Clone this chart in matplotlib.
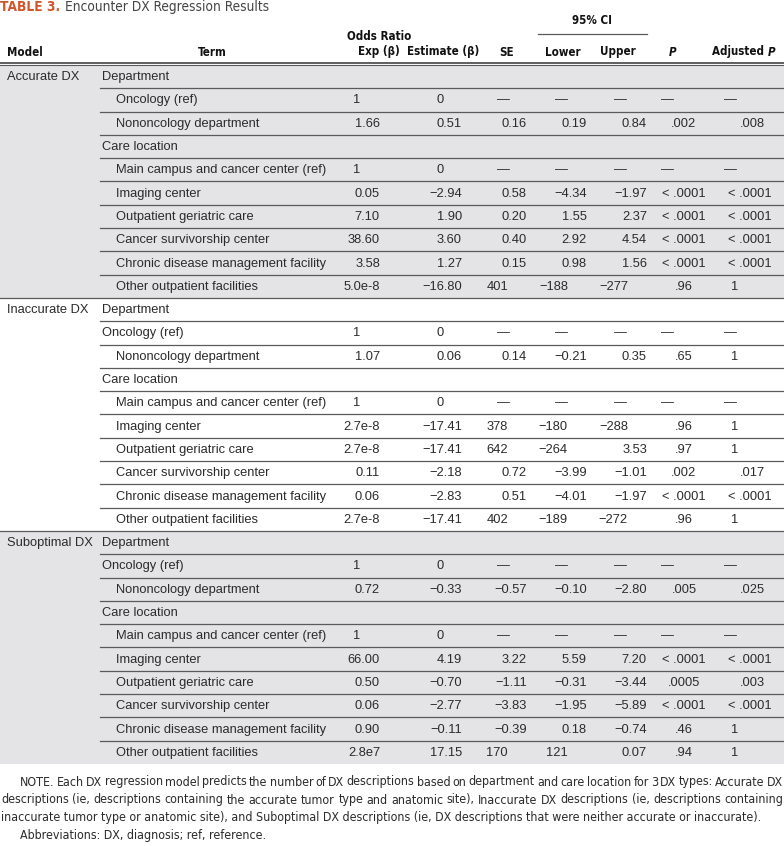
import matplotlib.pyplot as plt
from matplotlib.patches import Rectangle

# ---- data -------------------------------------------------------------
models = ["Accurate DX", "Inaccurate DX", "Suboptimal DX"]
terms = ["Department", "Oncology (ref)", "Nononcology department", "Care location",
         "Main campus and cancer center (ref)", "Imaging center",
         "Outpatient geriatric care", "Cancer survivorship center",
         "Chronic disease management facility", "Other outpatient facilities"]

odds_ratio = [
    ["", "1", "1.66", "", "1", "0.05", "7.10", "38.60", "3.58", "5.0e-8"],
    ["", "1", "1.07", "", "1", "2.7e-8", "2.7e-8", "0.11", "0.06", "2.7e-8"],
    ["", "1", "0.72", "", "1", "66.00", "0.50", "0.06", "0.90", "2.8e7"],
]
estimate = [
    ["", "0", "0.51", "", "0", "−2.94", "1.90", "3.60", "1.27", "−16.80"],
    ["", "0", "0.06", "", "0", "−17.41", "−17.41", "−2.18", "−2.83", "−17.41"],
    ["", "0", "−0.33", "", "0", "4.19", "−0.70", "−2.77", "−0.11", "17.15"],
]
se = [
    ["", "—", "0.16", "", "—", "0.58", "0.20", "0.40", "0.15", "401"],
    ["", "—", "0.14", "", "—", "378", "642", "0.72", "0.51", "402"],
    ["", "—", "−0.57", "", "—", "3.22", "−1.11", "−3.83", "−0.39", "170"],
]
ci_lower = [
    ["", "—", "0.19", "", "—", "−4.34", "1.55", "2.92", "0.98", "−188"],
    ["", "—", "−0.21", "", "—", "−180", "−264", "−3.99", "−4.01", "−189"],
    ["", "—", "−0.10", "", "—", "5.59", "−0.31", "−1.95", "0.18", "121"],
]
ci_upper = [
    ["", "—", "0.84", "", "—", "−1.97", "2.37", "4.54", "1.56", "−277"],
    ["", "—", "0.35", "", "—", "−288", "3.53", "−1.01", "−1.97", "−272"],
    ["", "—", "−2.80", "", "—", "7.20", "−3.44", "−5.89", "−0.74", "0.07"],
]
p_value = [
    ["", "—", ".002", "", "—", "< .0001", "< .0001", "< .0001", "< .0001", ".96"],
    ["", "—", ".65", "", "—", ".96", ".97", ".002", "< .0001", ".96"],
    ["", "—", ".005", "", "—", "< .0001", ".0005", "< .0001", ".46", ".94"],
]
adj_p = [
    ["", "—", ".008", "", "—", "< .0001", "< .0001", "< .0001", "< .0001", "1"],
    ["", "—", "1", "", "—", "1", "1", ".017", "< .0001", "1"],
    ["", "—", ".025", "", "—", "< .0001", ".003", "< .0001", "1", "1"],
]

note_lines = [
    "NOTE. Each DX regression model predicts the number of DX descriptions based on department and care location for 3 DX types: Accurate DX",
    "descriptions (ie, descriptions containing the accurate tumor type and anatomic site), Inaccurate DX descriptions (ie, descriptions containing",
    "inaccurate tumor type or anatomic site), and Suboptimal DX descriptions (ie, DX descriptions that were neither accurate or inaccurate).",
]
abbrev = "Abbreviations: DX, diagnosis; ref, reference."

# ---- layout / style ---------------------------------------------------
W, H = 784, 846
ROW_TOP, ROW_H = 65.0, 23.3
GRAY = "#e4e4e6"
LINE = "#5a5a5a"
TXT = "#2b2b2b"
BODY = dict(family=["Liberation Sans", "DejaVu Sans"], fontsize=9.3, color=TXT)
HEAD = dict(family="DejaVu Sans", fontstretch="condensed", fontsize=8.3,
            fontweight="bold", color="#111111")
flush_rows = [[0, 3], [0, 1, 3], [0, 1, 3]]  # term rows not indented


def value_pos(col, s):
    """x and alignment of a value inside its column."""
    is_int = "." not in s and "e" not in s
    if col == "odds":
        return (357, "center") if s == "1" else (380, "right")
    if col == "est":
        return (440, "center") if s == "0" else (462, "right")
    if col in ("se", "lower", "upper"):
        right = {"se": 527, "lower": 587, "upper": 647}[col]
        dash = {"se": 503, "lower": 561, "upper": 620}[col]
        if s == "—":
            return dash, "center"
        return (right - 19, "right") if is_int else (right, "right")
    if col == "p":
        return (667, "center") if s == "—" else (684, "center")
    # adjusted P
    if s == "—":
        return 730, "center"
    if s == "1":
        return 735, "center"
    return (772, "right") if s.startswith("<") else (765, "right")


fig = plt.figure(figsize=(W / 100, H / 100), dpi=100)
ax = fig.add_axes([0, 0, 1, 1])
ax.set_xlim(0, W)
ax.set_ylim(H, 0)
ax.axis("off")
renderer = fig.canvas.get_renderer()

# title
t1 = ax.text(0, 7, "TABLE 3.", ha="left", va="center", color="#d0562a",
             family="DejaVu Sans", fontstretch="condensed", fontsize=9.8,
             fontweight="bold")
x_t = t1.get_window_extent(renderer).x1 + 5
ax.text(x_t, 7, "Encounter DX Regression Results", ha="left", va="center",
        color="#454545", family="DejaVu Sans", fontstretch="condensed", fontsize=9.8)

# header
hy = 52
ax.text(7, hy, "Model", ha="left", va="center", **HEAD)
ax.text(212, hy, "Term", ha="center", va="center", **HEAD)
ax.text(379, 36, "Odds Ratio", ha="center", va="center", **HEAD)
ax.text(379, hy, "Exp (β)", ha="center", va="center", **HEAD)
ax.text(443, hy, "Estimate (β)", ha="center", va="center", **HEAD)
ax.text(507, hy, "SE", ha="center", va="center", **HEAD)
ax.text(592, 20, "95% CI", ha="center", va="center", **HEAD)
ax.plot([538, 647], [34, 34], color=LINE, lw=0.9)
ax.text(563, hy, "Lower", ha="center", va="center", **HEAD)
ax.text(618, hy, "Upper", ha="center", va="center", **HEAD)
ax.text(673, hy, "P", ha="center", va="center", style="italic", **HEAD)
ax.text(768, hy, "Adjusted ", ha="right", va="center", **HEAD)
ax.text(768, hy, "P", ha="left", va="center", style="italic", **HEAD)
ax.plot([0, W], [62.6, 62.6], color="#333333", lw=1.1)
ax.plot([0, W], [64.8, 64.8], color=LINE, lw=0.8)

columns = [("odds", odds_ratio), ("est", estimate), ("se", se), ("lower", ci_lower),
           ("upper", ci_upper), ("p", p_value), ("adj", adj_p)]
n_terms = len(terms)

for g, model in enumerate(models):
    g_top = ROW_TOP + g * n_terms * ROW_H
    if g != 1:
        ax.add_patch(Rectangle((0, g_top), W, n_terms * ROW_H, color=GRAY, lw=0, zorder=0))
    ax.text(7, g_top + ROW_H / 2 + 0.5, model, ha="left", va="center", **BODY)
    for r, term in enumerate(terms):
        top = g_top + r * ROW_H
        yc = top + ROW_H / 2 + 0.5
        tx = 102 if r in flush_rows[g] else 116
        ax.text(tx, yc, term, ha="left", va="center", **BODY)
        for col, vals in columns:
            s = vals[g][r]
            if s:
                x, ha = value_pos(col, s)
                ax.text(x, yc, s, ha=ha, va="center", **BODY)
        bottom = top + ROW_H
        last_row = g == len(models) - 1 and r == n_terms - 1
        if not last_row:
            x0 = 0 if r == n_terms - 1 else 100
            ax.plot([x0, W], [bottom, bottom], color=LINE, lw=0.9)

# note: size the font so the last full line spans like the journal layout
NOTE = dict(family="DejaVu Sans", fontstretch="condensed", fontsize=10, color=TXT)
probe = ax.text(0, 0, note_lines[2], **NOTE)
NOTE["fontsize"] = 10 * 762 / probe.get_window_extent(renderer).width
probe.remove()


def justified(line, y, x0, x1):
    words = line.split(" ")
    items = [ax.text(0, y, w, ha="left", va="center", **NOTE) for w in words]
    widths = [t.get_window_extent(renderer).width for t in items]
    gap = (x1 - x0 - sum(widths)) / (len(words) - 1)
    x = x0
    for t, w in zip(items, widths):
        t.set_x(x)
        x += w + gap


justified(note_lines[0], 782, 20, W - 1)
justified(note_lines[1], 800, 1, W - 1)
ax.text(1, 818, note_lines[2], ha="left", va="center", **NOTE)
ax.text(20, 836, abbrev, ha="left", va="center", **NOTE)

fig.savefig("out.png", dpi=100)
